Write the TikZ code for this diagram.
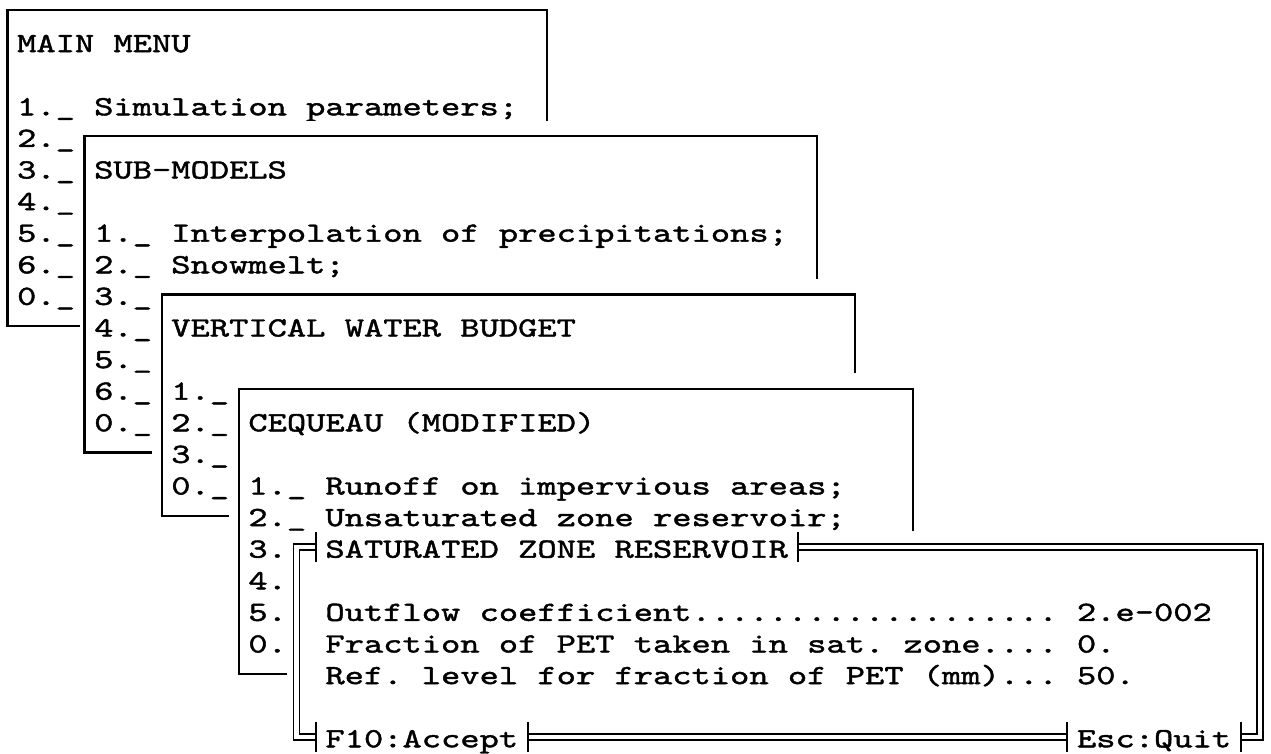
\documentclass[tikz,border=0pt]{standalone}
\usepackage{fontspec}
\newfontfamily\screenfam{lmmono10-regular.otf}[FakeStretch=1.3203,FakeBold=1.5]
\newcommand\screenfont{\screenfam\fontsize{27.8pt}{31.6pt}\selectfont\frenchspacing}
\begin{document}
\begin{tikzpicture}[x=19.27pt, y=-31.6pt,
  txt/.style={anchor=base west, inner sep=0pt, outer sep=0pt, font=\screenfont, yshift=-10.5pt},
  sline/.style={draw=black, line width=2.2pt, line join=miter},
  dline/.style={draw=black, line width=1.5pt, line join=miter},
  tee/.style={draw=black, line width=2pt},
  cover/.style={fill=white}]
\path[use as bounding box, fill=white] (-7.5pt,10pt) rectangle (1263.5pt,-744pt);
\def\d{3pt}
% ---------------- MAIN MENU ----------------
\draw[sline] (0,0) rectangle (28,10);
\node[txt] (mmt) at (0.5,1) {MAIN MENU};
\node[txt] (mm1) at (0.5,3) {1.\_ Simulation parameters;};
\node[txt] (mm2) at (0.5,4) {2.\_};
\node[txt] (mm3) at (0.5,5) {3.\_};
\node[txt] (mm4) at (0.5,6) {4.\_};
\node[txt] (mm5) at (0.5,7) {5.\_};
\node[txt] (mm6) at (0.5,8) {6.\_};
\node[txt] (mm0) at (0.5,9) {0.\_};
% ---------------- SUB-MODELS ----------------
\path[cover] (3.75,3.5) rectangle (42.5,14.5);
\draw[sline] (4,4) rectangle (42,14);
\node[txt] (smt) at (4.5,5) {SUB-MODELS};
\node[txt] (sm1) at (4.5,7) {1.\_ Interpolation of precipitations;};
\node[txt] (sm2) at (4.5,8) {2.\_ Snowmelt;};
\node[txt] (sm3) at (4.5,9) {3.\_};
\node[txt] (sm4) at (4.5,10) {4.\_};
\node[txt] (sm5) at (4.5,11) {5.\_};
\node[txt] (sm6) at (4.5,12) {6.\_};
\node[txt] (sm0) at (4.5,13) {0.\_};
% ---------------- VERTICAL WATER BUDGET ----------------
\path[cover] (7.5,8.5) rectangle (44.5,16.5);
\draw[sline] (8,9) rectangle (44,16);
\node[txt] (vwt) at (8.5,10) {VERTICAL WATER BUDGET};
\node[txt] (vw1) at (8.5,12) {1.\_};
\node[txt] (vw2) at (8.5,13) {2.\_};
\node[txt] (vw3) at (8.5,14) {3.\_};
\node[txt] (vw0) at (8.5,15) {0.\_};
% ---------------- CEQUEAU ----------------
\path[cover] (11.5,11.5) rectangle (47.5,21.5);
\draw[sline] (12,12) rectangle (47,21);
\node[txt] (cqt) at (12.5,13) {CEQUEAU (MODIFIED)};
\node[txt] (cq1) at (12.5,15) {1.\_ Runoff on impervious areas;};
\node[txt] (cq2) at (12.5,16) {2.\_ Unsaturated zone reservoir;};
\node[txt] (cq3) at (12.5,17) {3.};
\node[txt] (cq4) at (12.5,18) {4.};
\node[txt] (cq5) at (12.5,19) {5.};
\node[txt] (cq0) at (12.5,20) {0.};
% ---------------- SATURATED ZONE RESERVOIR ----------------
\path[cover] (14.5,16.5) rectangle (65.5,23.5);
% outer line
\draw[dline] ([yshift=\d]16,17) -- ([xshift=-\d,yshift=\d]15,17) -- ([xshift=-\d,yshift=-\d]15,23) -- ([yshift=-\d]16,23);
\draw[dline] ([yshift=\d]41,17) -- ([xshift=\d,yshift=\d]65,17) -- ([xshift=\d,yshift=-\d]65,23) -- ([yshift=-\d]64,23);
\draw[dline] ([yshift=-\d]27,23) -- ([yshift=-\d]55,23);
% inner line
\draw[dline] ([yshift=-\d]16,17) -- ([xshift=\d,yshift=-\d]15,17) -- ([xshift=\d,yshift=\d]15,23) -- ([yshift=\d]16,23);
\draw[dline] ([yshift=-\d]41,17) -- ([xshift=-\d,yshift=-\d]65,17) -- ([xshift=-\d,yshift=\d]65,23) -- ([yshift=\d]64,23);
\draw[dline] ([yshift=\d]27,23) -- ([yshift=\d]55,23);
% tee bars
\foreach \c/\r in {16/17, 41/17, 16/23, 27/23, 55/23, 64/23}
  \draw[tee] ([yshift=15pt]\c,\r) -- ([yshift=-15pt]\c,\r);
\node[txt] (szt) at (16.5,17) {SATURATED ZONE RESERVOIR};
\node[txt] (sz1) at (16.5,19) {Outflow coefficient................... 2.e-002};
\node[txt] (sz2) at (16.5,20) {Fraction of PET taken in sat. zone.... 0.};
\node[txt] (sz3) at (16.5,21) {Ref. level for fraction of PET (mm)... 50.};
\node[txt] (f10) at (16.5,23) {F10:Accept};
\node[txt] (esc) at (55.5,23) {Esc:Quit};
\end{tikzpicture}
\end{document}
